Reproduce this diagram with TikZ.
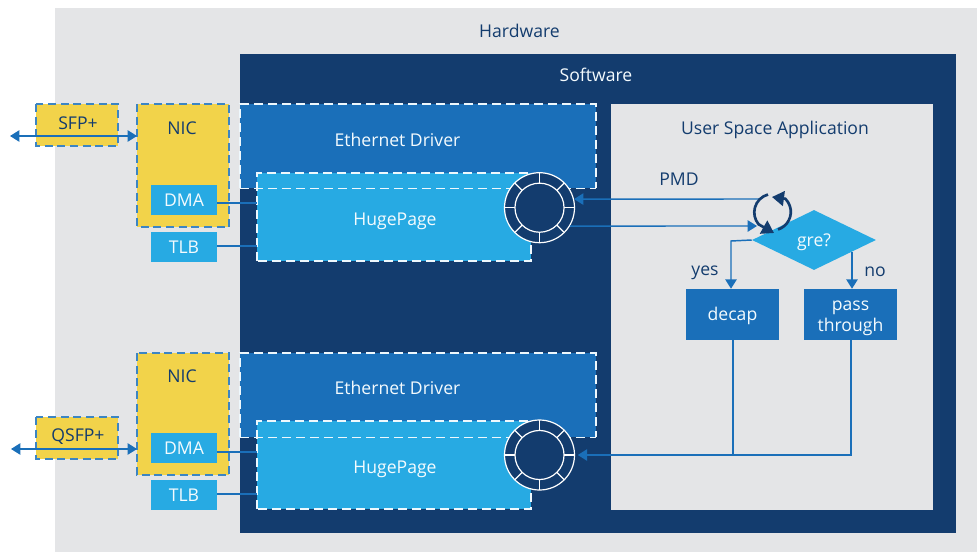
\documentclass[tikz,border=0pt]{standalone}
\usepackage{fontspec}
\setmainfont{Open Sans}
\usetikzlibrary{shapes.geometric,arrows.meta,calc}
\definecolor{hwgray}{HTML}{E4E5E7}
\definecolor{navy}{HTML}{133C6E}
\definecolor{midblue}{HTML}{1A6FB9}
\definecolor{skyblue}{HTML}{27AAE3}
\definecolor{nicyellow}{HTML}{F2D34A}
\tikzset{
  x=0.75pt,y=-0.75pt,
  lbl/.style={font=\fontsize{13.2}{16}\selectfont,text=navy,inner sep=0pt,text height=9.3pt,text depth=0pt},
  wlbl/.style={font=\fontsize{13.2}{16}\selectfont,text=white!95!skyblue,inner sep=0pt,text height=9.3pt,text depth=0pt},
  wdash/.style={draw=white!92!skyblue,line width=1.1pt,dash pattern=on 6.5pt off 4pt},
  bdash/.style={draw=midblue!85!white,line width=1pt,dash pattern=on 6pt off 3.5pt},
  chip/.style={fill=skyblue,rectangle,inner sep=0pt,minimum width=49.5pt,minimum height=22.5pt,wlbl},
  flow/.style={fill=midblue,rectangle,inner sep=0pt,minimum width=70pt,minimum height=38.25pt,wlbl,align=center},
  link/.style={draw=midblue,line width=1.1pt},
  tip/.style={-{Triangle[length=7pt,width=8.5pt]}},
  dbl/.style={{Triangle[length=7pt,width=8.5pt]}-{Triangle[length=7pt,width=8.5pt]}},
  ringo/.style={circle,draw=white,fill=navy,line width=0.9pt,inner sep=0pt,minimum size=52.5pt},
  ringi/.style={circle,draw=white,fill=navy,line width=0.9pt,inner sep=0pt,minimum size=36.8pt},
  spoke/.style={draw=white,line width=0.9pt},
  loopa/.style={draw=navy,line width=2pt,-{Triangle[length=9pt,width=11pt]}}
}
\begin{document}
\begin{tikzpicture}
\useasboundingbox (0,0) rectangle (977,552);
\fill[white] (0,0) rectangle (977,552);
\fill[hwgray] (55,8) rectangle (977,552);
\fill[navy] (240,54) rectangle (956,533);
\fill[hwgray] (611,104) rectangle (933,510);
\node[lbl] (hw) at (519.5,31) {Hardware};
\node[wlbl] (sw) at (596,75) {Software};
\node[lbl] (usa) at (775,128) {User Space Application};
% Upper Ethernet driver and HugePage
\fill[midblue] (240,104) rectangle (596,188);
\draw[wdash] (240,188) -- (240,104) -- (596,104) -- (596,188);
\fill[skyblue] (257,173) rectangle (531,261);
\draw[wdash] (257,261) -- (257,173) -- (531,173) -- (531,261) -- cycle;
\draw[wdash] (240,188.5) -- (596,188.5);
\node[wlbl] (eth1) at (397.5,140) {Ethernet Driver};
\node[wlbl] (hp1) at (395,219) {HugePage};
% Lower Ethernet driver and HugePage
\fill[midblue] (240,353) rectangle (596,437);
\draw[wdash] (240,437) -- (240,353) -- (596,353) -- (596,437);
\fill[skyblue] (257,421) rectangle (531,509);
\draw[wdash] (257,509) -- (257,421) -- (531,421) -- (531,509) -- cycle;
\draw[wdash] (240,437.5) -- (596,437.5);
\node[wlbl] (eth2) at (397.5,388) {Ethernet Driver};
\node[wlbl] (hp2) at (395,467) {HugePage};
% Rings
\foreach \n/\y in {1/207.7,2/455} {
  \node[ringo] (ring\n) at (539.5,\y) {};
  \foreach \a in {0,45,...,315}
    \draw[spoke] ([shift={(\a:18pt)}]ring\n.center) -- ([shift={(\a:26pt)}]ring\n.center);
  \node[ringi] (core\n) at (539.5,\y) {};
}
% Yellow hardware blocks
\fill[nicyellow] (36,104) rectangle (118,146);
\draw[bdash] (36,104) rectangle (118,146);
\node[lbl] (sfp) at (78,123) {SFP+};
\fill[nicyellow] (137,104) rectangle (229,227);
\draw[bdash] (137,104) rectangle (229,227);
\coordinate (nic1w) at (137,136);
\node[lbl] (nic1) at (182,128) {NIC};
\node[chip] (dma1) at (184,200) {DMA};
\node[chip] (tlb1) at (184,247) {TLB};
\fill[nicyellow] (36,417) rectangle (118,459);
\draw[bdash] (36,417) rectangle (118,459);
\node[lbl] (qsfp) at (78,435.5) {QSFP+};
\fill[nicyellow] (137,353) rectangle (229,475);
\draw[bdash] (137,353) rectangle (229,475);
\coordinate (nic2w) at (137,449);
\node[lbl] (nic2) at (182,376) {NIC};
\node[chip] (dma2) at (184,448) {DMA};
\node[chip] (tlb2) at (184,495) {TLB};
% External ports
\coordinate (ext1) at (10,136);
\coordinate (ext2) at (11,449);
\draw[link,dbl] (ext1) -- (nic1w);
\draw[link,dbl] (ext2) -- (nic2w);
% DMA / TLB links
\coordinate (hpd1) at (257,203);
\coordinate (hpt1) at (257,246);
\coordinate (hpd2) at (257,452);
\coordinate (hpt2) at (257,494);
\draw[link] (hpd1 -| dma1.east) -- (hpd1);
\draw[link] (hpt1 -| tlb1.east) -- (hpt1);
\draw[link] (hpd2 -| dma2.east) -- (hpd2);
\draw[link] (hpt2 -| tlb2.east) -- (hpt2);
% Flow chart
\node[diamond,aspect=2,fill=skyblue,inner sep=0pt,minimum width=93pt,minimum height=45pt,wlbl] (gre) at (814,240) {gre?};
\node[flow] (decap) at (732.5,314.5) {decap};
\node[flow,text height=25.3pt] (pass) at (850.5,314.5) {pass\\through};
\node[lbl] (yes) at (705,269) {yes};
\node[lbl] (no) at (875,270.5) {no};
\node[lbl] (pmd) at (679,179) {PMD};
\coordinate (yesturn) at (731,241);
\coordinate (nostart) at (852,252);
\draw[link,tip] (gre.west) -- (yesturn) -- (yesturn |- decap.north);
\draw[link,tip] (nostart) -- (nostart |- pass.north);
\coordinate (polltop) at (760,199);
\coordinate (pollin) at (757,226);
\draw[link,tip] (polltop) -- (ring1.14);
\draw[link,tip] (ring1.-31) -- (pollin);
% Return path
\coordinate (retd) at (733,455);
\coordinate (retp) at (851,455);
\draw[link] (decap.south -| retd) -- (retd);
\draw[link,tip,shorten >=2pt] (pass.south -| retp) -- (retp) -- (ring2.east);
% Poll loop
\coordinate (loopa) at (768,194.5);
\coordinate (loopb) at (778,229.5);
\coordinate (tipa) at (774,233);
\coordinate (tipb) at (772,197);
\draw[loopa] (loopa) arc[start angle=105,end angle=220,radius=13.9pt] -- (tipa);
\draw[loopa] (loopb) arc[start angle=-72,end angle=45,radius=13.9pt] -- (tipb);
\end{tikzpicture}
\end{document}
